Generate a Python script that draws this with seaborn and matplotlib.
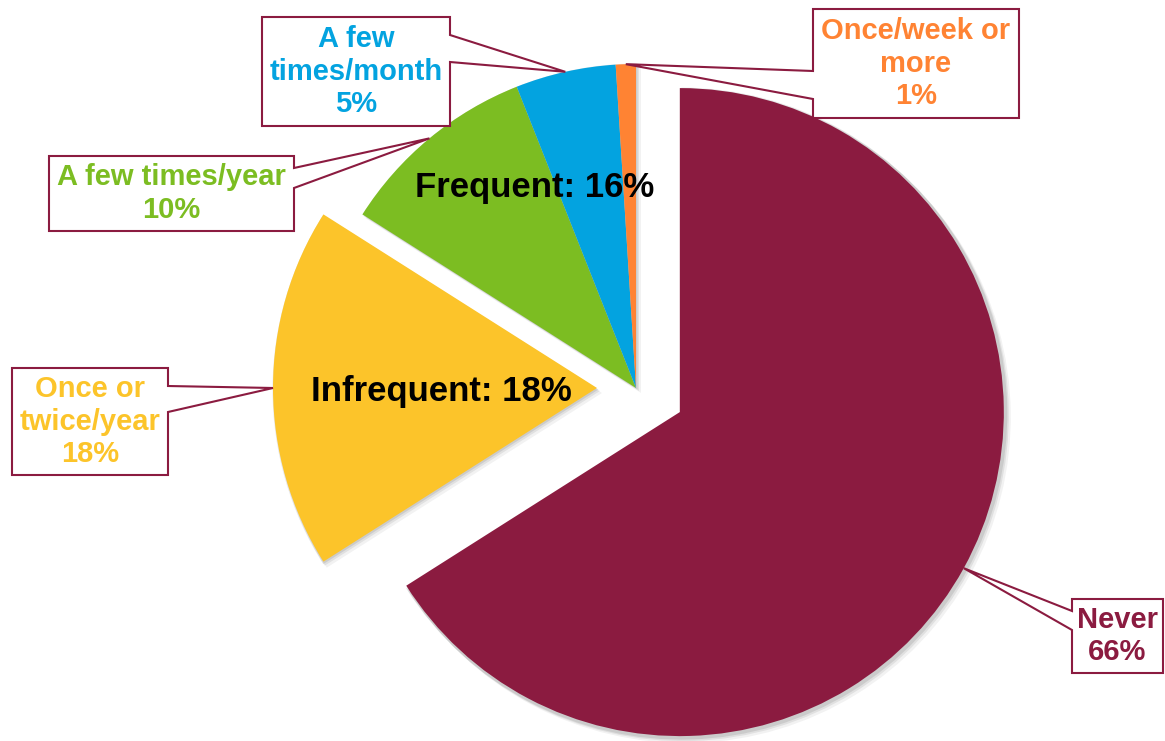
import numpy as np
import seaborn as sns
import matplotlib.pyplot as plt
from matplotlib.patches import Polygon

# data
categories = ['Never', 'Once or\ntwice/year', 'A few times/year', 'A few\ntimes/month', 'Once/week or\nmore']
shares = [66, 18, 10, 5, 1]
colors = ['#8B1B40', '#FCC42A', '#7CBD22', '#03A3E0', '#FF8333']
group_labels = ['Infrequent: 18%', 'Frequent: 16%']

sns.set_theme(style='white')
plt.rcParams['font.family'] = ['Liberation Sans', 'DejaVu Sans']

W, H = 1165, 741
R = 324
explode = [50, 39, 0, 0, 0]  # pie uses explode as absolute offset (data units = pixels here)

fig = plt.figure(figsize=(W / 100, H / 100), dpi=100)
ax = fig.add_axes([0, 0, 1, 1])

def py(y):
    # pixel row -> data y
    return H - y

# soft shadow underneath
for k, (dx, dy, a) in enumerate([(5, -5, 0.05), (3, -3, 0.07), (1.5, -1.5, 0.09)]):
    sh, _ = ax.pie(shares, colors=['black'] * len(shares), startangle=90, counterclock=False,
                   explode=explode, radius=R + 2, center=(636 + dx, py(388) + dy),
                   wedgeprops=dict(linewidth=0, alpha=a))
    for s in sh:
        s.set_zorder(0.5)

wedges, _ = ax.pie(shares, colors=sns.color_palette(colors), startangle=90, counterclock=False,
                   explode=explode, radius=R, center=(636, py(388)),
                   wedgeprops=dict(linewidth=0))
for w in wedges:
    w.set_zorder(1)
ax.set_xlim(0, W)
ax.set_ylim(0, H)
ax.set_aspect('equal')
ax.axis('off')

# callout boxes: (x0, y0, x1, y1) in pixels, side of pointer, pointer attach rows
boxes = [
    ((1072, 599, 1163, 673), 'left', (611, 630)),
    ((12, 368, 168, 475), 'right', (386, 412)),
    ((49, 156, 294, 231), 'right', (168, 188)),
    ((262, 17, 450, 126), 'right', (35, 62)),
    ((813, 9, 1019, 118), 'left', (71, 99)),
]

for w, lab, val, col, (box, side, (a, b)) in zip(wedges, categories, shares, colors, boxes):
    th = np.deg2rad((w.theta1 + w.theta2) / 2)
    tip = (w.center[0] + w.r * np.cos(th), w.center[1] + w.r * np.sin(th))
    x0, y0, x1, y1 = box
    if side == 'right':
        verts = [(x0, py(y0)), (x1, py(y0)), (x1, py(a)), tip, (x1, py(b)), (x1, py(y1)), (x0, py(y1))]
    else:
        verts = [(x0, py(y0)), (x1, py(y0)), (x1, py(y1)), (x0, py(y1)), (x0, py(b)), tip, (x0, py(a))]
    ax.add_patch(Polygon(verts, closed=True, facecolor='white', edgecolor='#8B1B40', linewidth=1.5, zorder=3))
    ax.text((x0 + x1) / 2, py((y0 + y1) / 2), f'{lab}\n{val}%', color=col, fontsize=21, fontweight='bold',
            ha='center', va='center', linespacing=1.22, zorder=4)

ax.text(441, py(391), group_labels[0], fontsize=25, fontweight='bold', color='black', ha='center', va='center', zorder=4)
ax.text(535, py(188), group_labels[1], fontsize=25, fontweight='bold', color='black', ha='center', va='center', zorder=4)

fig.savefig('out.png', dpi=100, facecolor='white')
